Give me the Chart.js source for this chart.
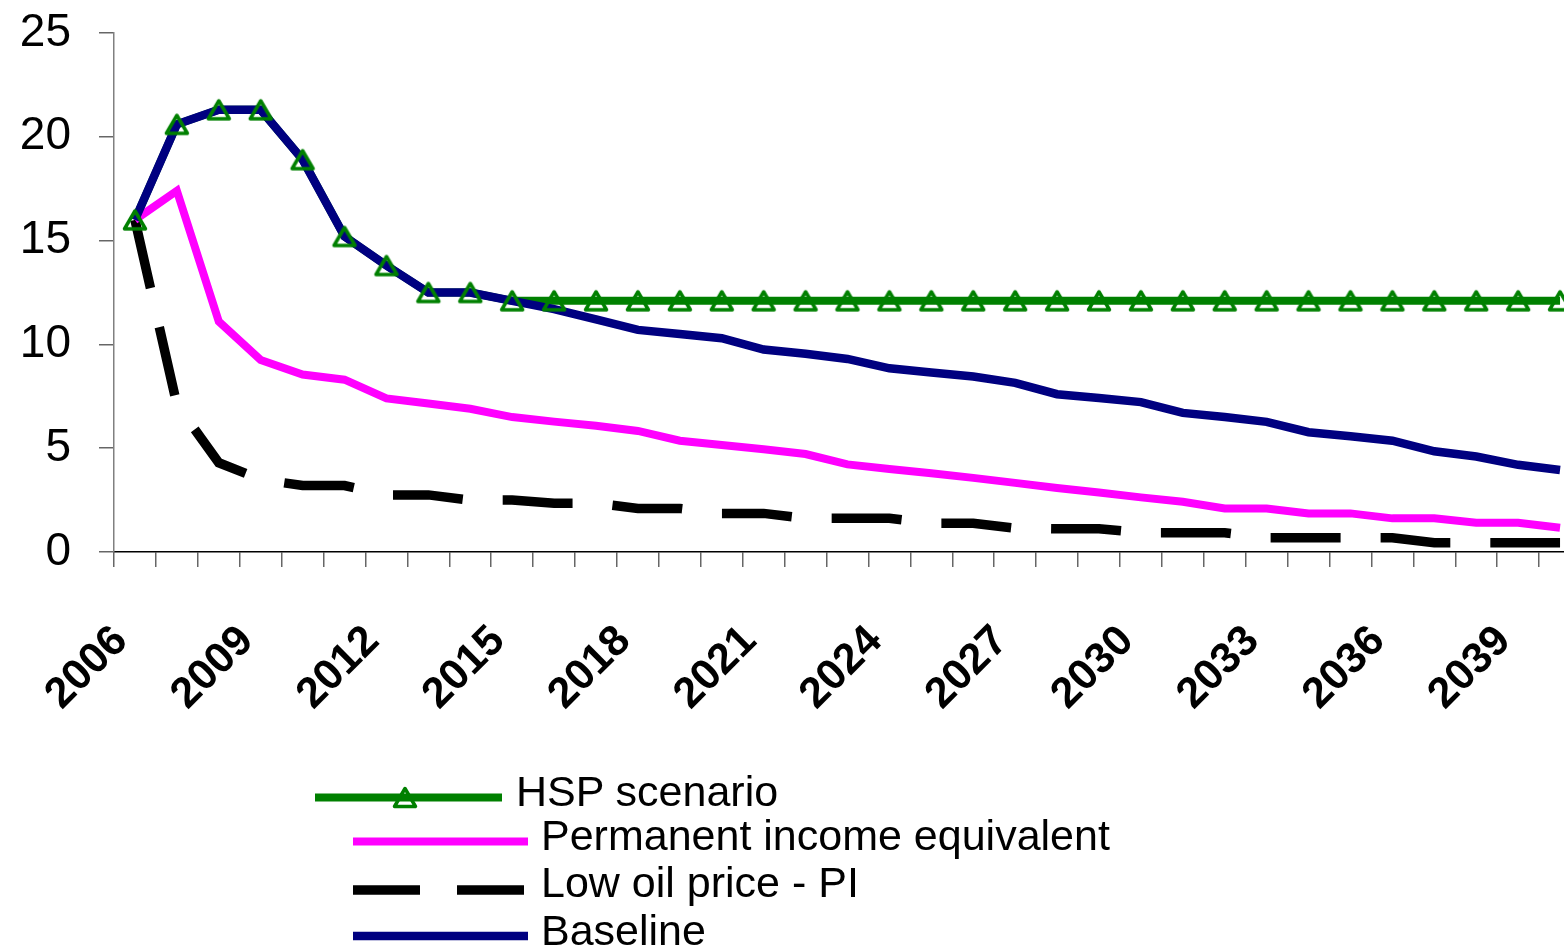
<!DOCTYPE html>
<html>
<head>
<meta charset="utf-8">
<title>Scenarios</title>
<style>
    html, body {
        margin: 0;
        padding: 0;
        background: #fff;
        overflow: hidden;
    }
    #chart {
        position: absolute;
        left: 0;
        top: 0;
    }
    .legend-text {
        position: absolute;
        white-space: nowrap;
        font-family: 'Liberation Sans', Arial, sans-serif;
        font-size: 43px;
        line-height: 43px;
        color: #000;
    }
    #legendSwatches {
        position: absolute;
        left: 0;
        top: 0;
    }
</style>
<script src="https://cdn.jsdelivr.net/npm/chart.js"></script>
</head>
<body>
<canvas id="chart" width="1581" height="949"></canvas>
<svg id="legendSwatches" width="1564" height="949"></svg>
<div id="legend"></div>

<script>
// Data
const years = ['2006', '2007', '2008', '2009', '2010', '2011', '2012', '2013', '2014', '2015',
    '2016', '2017', '2018', '2019', '2020', '2021', '2022', '2023', '2024', '2025',
    '2026', '2027', '2028', '2029', '2030', '2031', '2032', '2033', '2034', '2035',
    '2036', '2037', '2038', '2039', '2040'];

const hspScenario = [16.0, 20.6, 21.3, 21.3, 18.9, 15.2, 13.8, 12.5, 12.5, 12.1,
    12.1, 12.1, 12.1, 12.1, 12.1, 12.1, 12.1, 12.1, 12.1, 12.1,
    12.1, 12.1, 12.1, 12.1, 12.1, 12.1, 12.1, 12.1, 12.1, 12.1,
    12.1, 12.1, 12.1, 12.1, 12.1];

const permanentIncome = [16.0, 17.4, 11.1, 9.25, 8.55, 8.3, 7.4, 7.15, 6.9, 6.5,
    6.28, 6.08, 5.83, 5.36, 5.15, 4.95, 4.72, 4.22, 4.0, 3.79,
    3.57, 3.33, 3.08, 2.87, 2.63, 2.42, 2.1, 2.1, 1.86, 1.86,
    1.62, 1.62, 1.41, 1.41, 1.17];

const lowOilPrice = [16.0, 7.1, 4.3, 3.5, 3.2, 3.2, 2.75, 2.75, 2.5, 2.5,
    2.35, 2.35, 2.1, 2.1, 1.86, 1.86, 1.62, 1.62, 1.62, 1.38,
    1.38, 1.15, 1.12, 1.12, 0.93, 0.93, 0.93, 0.69, 0.69, 0.69,
    0.69, 0.45, 0.45, 0.45, 0.45];

const baseline = [16.0, 20.6, 21.3, 21.3, 18.9, 15.2, 13.8, 12.5, 12.5, 12.1,
    11.7, 11.2, 10.7, 10.5, 10.3, 9.75, 9.55, 9.3, 8.85, 8.65,
    8.45, 8.15, 7.6, 7.42, 7.22, 6.7, 6.5, 6.27, 5.77, 5.58,
    5.36, 4.85, 4.6, 4.2, 3.95];

const yTicks = [0, 5, 10, 15, 20, 25];

const fontFamily = "'Liberation Sans', Arial, sans-serif";

// Chart area: left 114, top 33, bottom 552 (canvas is 949 high)
const plotBottom = 552;
const canvasHeight = 949;

// Excel-like hollow triangle marker, centred on its bounding box
function makeTriangle(color) {
    const c = document.createElement('canvas');
    c.width = 28;
    c.height = 28;
    const g = c.getContext('2d');
    g.strokeStyle = color;
    g.lineWidth = 3.5;
    g.lineJoin = 'round';
    g.beginPath();
    g.moveTo(14, 5);
    g.lineTo(24.5, 23);
    g.lineTo(3.5, 23);
    g.closePath();
    g.stroke();
    return c;
}
const triangleMarker = makeTriangle('#008000');

// lower "order" is drawn on top: triangles, then baseline, pink, black, green line
const chart = new Chart(document.getElementById('chart'), {
    type: 'line',
    data: {
        labels: years,
        datasets: [
            {
                label: 'HSP scenario',
                data: hspScenario,
                order: 5,
                borderColor: '#008000',
                borderWidth: 8,
                pointRadius: 0,
                hasMarker: true
            },
            {
                label: 'Permanent income equivalent',
                data: permanentIncome,
                order: 3,
                borderColor: '#FF00FF',
                borderWidth: 8,
                pointRadius: 0
            },
            {
                label: 'Low oil price - PI',
                data: lowOilPrice,
                order: 4,
                borderColor: '#000000',
                borderWidth: 9.5,
                borderDash: [70, 40],
                pointRadius: 0
            },
            {
                label: 'Baseline',
                data: baseline,
                order: 2,
                borderColor: '#000080',
                borderWidth: 8.5,
                pointRadius: 0
            },
            {
                label: 'HSP scenario markers',
                data: hspScenario,
                order: 1,
                showLine: false,
                pointStyle: triangleMarker,
                pointRadius: 12,
                pointHoverRadius: 12
            }
        ]
    },
    options: {
        responsive: false,
        animation: false,
        elements: { line: { tension: 0 } },
        layout: {
            autoPadding: false,
            padding: { top: 33, right: 0, bottom: 0, left: 0 }
        },
        plugins: {
            legend: { display: false },
            tooltip: { enabled: false }
        },
        scales: {
            x: {
                offset: true,
                grid: {
                    offset: true,
                    drawOnChartArea: false,
                    drawTicks: true,
                    tickLength: 15,
                    color: '#666',
                    lineWidth: 1.5
                },
                border: { color: '#000', width: 1.5 },
                ticks: {
                    autoSkip: false,
                    minRotation: 45,
                    maxRotation: 45,
                    padding: 49,
                    labelOffset: -14,
                    color: '#000',
                    font: { family: fontFamily, size: 43, weight: 'bold' },
                    callback: function(value, index) {
                        return index % 3 === 0 ? this.getLabelForValue(value) : '';
                    }
                },
                afterFit: function(scale) {
                    scale.height = canvasHeight - plotBottom;
                    scale.paddingRight = 0;
                }
            },
            y: {
                min: 0,
                max: 25,
                afterBuildTicks: function(scale) {
                    scale.ticks = yTicks.map(v => ({ value: v }));
                },
                ticks: {
                    padding: 28,
                    color: '#000',
                    font: { family: fontFamily, size: 46 }
                },
                grid: {
                    drawOnChartArea: false,
                    tickLength: 15,
                    color: '#666',
                    lineWidth: 1.5
                },
                border: { color: '#808080', width: 1.5 },
                afterFit: function(scale) {
                    scale.width = 114;
                    scale.paddingTop = 0;
                    scale.paddingBottom = 0;
                }
            }
        }
    }
});

// Legend (Excel-style, stacked under the plot)
const legendLayout = [
    { x1: 315, x2: 502, y: 797.5, textX: 516, textTop: 770, marker: 405 },
    { x1: 353, x2: 528, y: 841.5, textX: 541, textTop: 814 },
    { x1: 353, x2: 524, y: 890, textX: 541, textTop: 861 },
    { x1: 353, x2: 528, y: 936, textX: 541, textTop: 909 }
];

const svgNS = 'http://www.w3.org/2000/svg';
const swatches = document.getElementById('legendSwatches');
const legendDiv = document.getElementById('legend');

chart.data.datasets.slice(0, 4).forEach((ds, i) => {
    const pos = legendLayout[i];
    const line = document.createElementNS(svgNS, 'line');
    line.setAttribute('x1', pos.x1);
    line.setAttribute('x2', pos.x2);
    line.setAttribute('y1', pos.y);
    line.setAttribute('y2', pos.y);
    line.setAttribute('stroke', ds.borderColor);
    line.setAttribute('stroke-width', ds.borderWidth);
    if (ds.borderDash) {
        line.setAttribute('stroke-dasharray', '67 37');
    }
    swatches.appendChild(line);

    if (ds.hasMarker) {
        const cx = pos.marker;
        const cy = pos.y;
        const tri = document.createElementNS(svgNS, 'polygon');
        const pts = [[cx, cy - 9], [cx + 10.5, cy + 9], [cx - 10.5, cy + 9]];
        tri.setAttribute('points', pts.map(p => p.join(',')).join(' '));
        tri.setAttribute('fill', 'none');
        tri.setAttribute('stroke', ds.borderColor);
        tri.setAttribute('stroke-width', 3.5);
        tri.setAttribute('stroke-linejoin', 'round');
        swatches.appendChild(tri);
    }

    const text = document.createElement('div');
    text.className = 'legend-text';
    text.style.left = pos.textX + 'px';
    text.style.top = pos.textTop + 'px';
    text.textContent = ds.label;
    legendDiv.appendChild(text);
});
</script>
</body>
</html>
